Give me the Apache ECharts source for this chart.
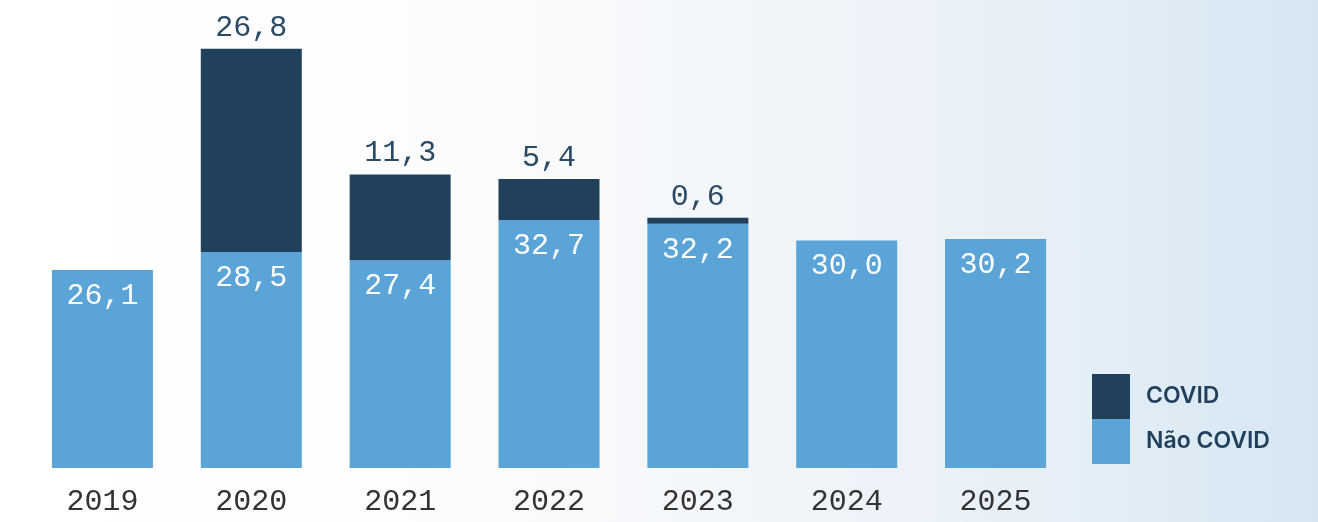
<!DOCTYPE html>
<html>
<head>
<meta charset="utf-8">
<script src="https://cdn.jsdelivr.net/npm/echarts@6/dist/echarts.min.js"></script>
<style>
html,body{margin:0;padding:0;}
#chart{width:1318px;height:522px;background:linear-gradient(90deg,#ffffff 0%,#fdfdfe 30%,#f3f6f9 55%,#e6eff7 80%,#d5e6f2 100%);}
</style>
</head>
<body>
<div id="chart"></div>
<script>
const categories = ['2019','2020','2021','2022','2023','2024','2025'];
const naoCovid = [26.1, 28.5, 27.4, 32.7, 32.2, 30.0, 30.2];
const covid = [null, 26.8, 11.3, 5.4, 0.6, null, null];

const fmt = v => (v == null ? '' : Number(v).toFixed(1).replace('.', ','));
const monoFont = '"Liberation Mono", "DejaVu Sans Mono", monospace';

const chart = echarts.init(document.getElementById('chart'));
chart.setOption({
  backgroundColor: 'transparent',
  animation: false,
  grid: { left: 28, right: 248, top: 13, bottom: 54 },
  legend: {
    orient: 'vertical',
    left: 1087,
    top: 369,
    itemWidth: 38,
    itemHeight: 45,
    itemGap: 0,
    icon: 'rect',
    data: ['COVID', 'Não COVID'],
    textStyle: { color: '#1f3f5b', fontFamily: 'Inter', fontWeight: 600, fontSize: 23, padding: [0, 0, 0, 11] }
  },
  xAxis: {
    type: 'category',
    data: categories,
    axisLine: { show: false },
    axisTick: { show: false },
    axisLabel: { color: '#333333', fontFamily: monoFont, fontSize: 30, margin: 19 }
  },
  yAxis: { type: 'value', min: 0, max: 60, show: false, splitLine: { show: false } },
  series: [
    {
      name: 'Não COVID',
      type: 'bar',
      stack: 'total',
      data: naoCovid,
      barWidth: 101,
      itemStyle: { color: '#5aa4d8' },
      label: {
        show: true,
        position: 'insideTop',
        distance: 11,
        color: '#ffffff',
        fontFamily: monoFont,
        fontSize: 30,
        formatter: p => fmt(p.value)
      }
    },
    {
      name: 'COVID',
      type: 'bar',
      stack: 'total',
      data: covid,
      barWidth: 101,
      barMinHeight: 6,
      itemStyle: { color: '#20405b' },
      label: {
        show: true,
        position: 'top',
        distance: 6,
        color: '#2a4964',
        fontFamily: monoFont,
        fontSize: 30,
        formatter: p => fmt(p.value)
      }
    }
  ]
});
</script>
</body>
</html>
